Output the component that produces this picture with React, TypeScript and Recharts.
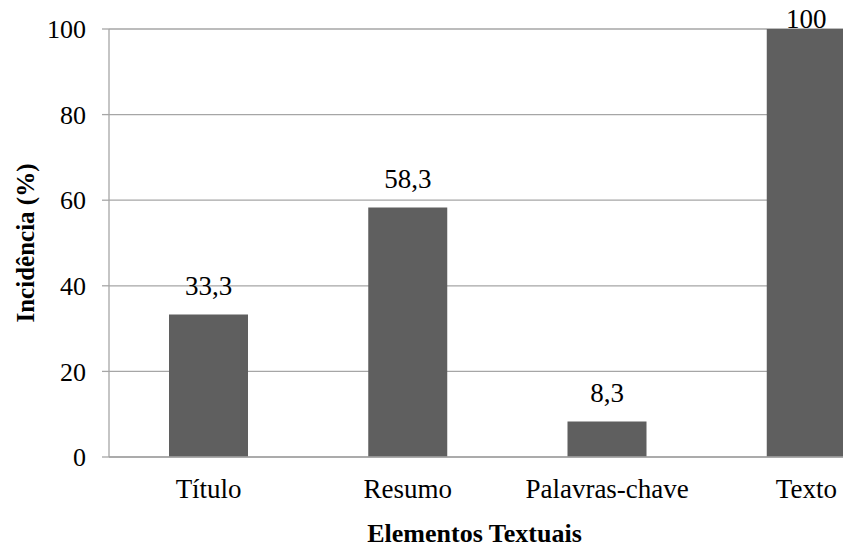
import React from 'react';
import { BarChart, Bar, XAxis, YAxis, CartesianGrid, LabelList, Label } from 'recharts';

const categories = ['Título', 'Resumo', 'Palavras-chave', 'Texto'];
const values = [33.3, 58.3, 8.3, 100];
const yTicks = [0, 20, 40, 60, 80, 100];
const boundaryTicks = [0, 1, 2, 3, 4];

const data = categories.map((c, i) => ({ cat: c, v: values[i] }));

const FONT = "'Liberation Serif', 'Times New Roman', serif";
const GRID = '#a6a6a6';
const TOP = 29;

const fmt = (v: number) => String(v).replace('.', ',');

const ValueLabel = (props: any) => {
  const { x, y, width, value } = props;
  const baseline = Math.max(y - 19, TOP - 1);
  return (
    <text x={x + width / 2} y={baseline} textAnchor="middle" fontSize={27} fontFamily={FONT} fill="#000">
      {fmt(value)}
    </text>
  );
};

export default function App() {
  return (
    <div style={{ position: 'absolute', left: 0, top: 0, width: 843, height: 548, overflow: 'hidden', background: '#fff' }}>
      <BarChart
        width={930}
        height={560}
        data={data}
        margin={{ top: TOP, right: 24, left: 0, bottom: 43 }}
      >
        <CartesianGrid horizontal vertical={false} stroke={GRID} strokeWidth={1.3} />
        <XAxis
          xAxisId="bnd"
          type="number"
          domain={[0, 4]}
          ticks={boundaryTicks}
          allowDataOverflow
          axisLine={false}
          tick={false}
          tickLine={{ stroke: GRID, strokeWidth: 1.3 }}
          tickSize={8}
          height={0}
        />
        <XAxis
          xAxisId="cat"
          dataKey="cat"
          type="category"
          axisLine={{ stroke: GRID, strokeWidth: 1.3 }}
          tickLine={false}
          tickSize={8}
          tickMargin={14}
          height={60}
          tick={{ fontSize: 27, fill: '#000', fontFamily: FONT }}
          interval={0}
        >
          <Label
            value="Elementos Textuais"
            position="bottom"
            offset={7}
            dx={-33}
            style={{ fontSize: 26, fontWeight: 'bold', fill: '#000', fontFamily: FONT }}
          />
        </XAxis>
        <YAxis
          domain={[0, 100]}
          ticks={yTicks}
          width={109}
          axisLine={{ stroke: GRID, strokeWidth: 1.3 }}
          tickLine={{ stroke: GRID, strokeWidth: 1.3 }}
          tickSize={7}
          tickMargin={16}
          tick={{ fontSize: 26, fill: '#000', fontFamily: FONT }}
        >
          <Label
            value="Incidência (%)"
            angle={-90}
            position="center"
            dx={-29}
            style={{ fontSize: 25, fontWeight: 'bold', fill: '#000', fontFamily: FONT, textAnchor: 'middle' }}
          />
        </YAxis>
        <Bar xAxisId="cat" dataKey="v" fill="#5f5f5f" barSize={79} isAnimationActive={false}>
          <LabelList dataKey="v" content={ValueLabel} />
        </Bar>
      </BarChart>
    </div>
  );
}
